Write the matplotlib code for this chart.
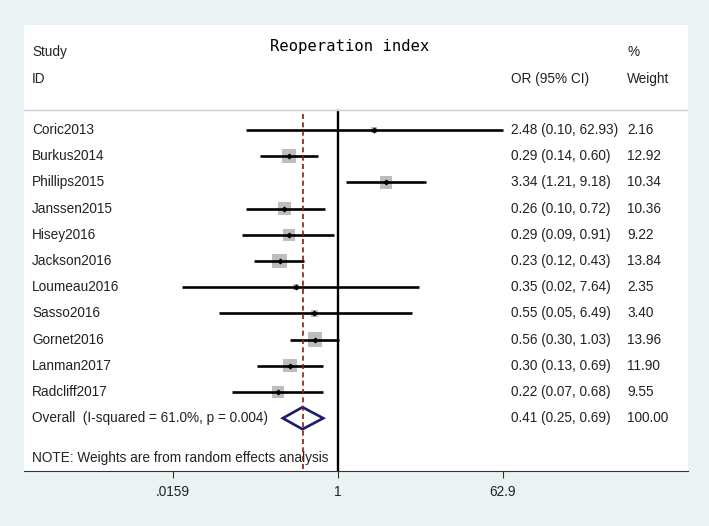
import numpy as np
import matplotlib
matplotlib.use("Agg")
import matplotlib.pyplot as plt

studies = ["Coric2013", "Burkus2014", "Phillips2015", "Janssen2015", "Hisey2016",
           "Jackson2016", "Loumeau2016", "Sasso2016", "Gornet2016", "Lanman2017",
           "Radcliff2017"]
odds = [2.48, 0.29, 3.34, 0.26, 0.29, 0.23, 0.35, 0.55, 0.56, 0.30, 0.22]
ci_low = [0.10, 0.14, 1.21, 0.10, 0.09, 0.12, 0.02, 0.05, 0.30, 0.13, 0.07]
ci_high = [62.93, 0.60, 9.18, 0.72, 0.91, 0.43, 7.64, 6.49, 1.03, 0.69, 0.68]
weights = [2.16, 12.92, 10.34, 10.36, 9.22, 13.84, 2.35, 3.40, 13.96, 11.90, 9.55]
overall = (0.41, 0.25, 0.69)
overall_label = "Overall  (I-squared = 61.0%, p = 0.004)"
xticks = [0.0159, 1, 62.9]
xticklabels = [".0159", "1", "62.9"]

txt_font = "Liberation Sans"
bg = "#eaf2f3"
W, H = 709, 526
fig = plt.figure(figsize=(W / 100, H / 100), dpi=100, facecolor=bg)

# white plot panel (pixel estimates from the reference)
left, right, top, bottom = 24, 688, 25, 471
ax = fig.add_axes([left / W, (H - bottom) / H, (right - left) / W, (bottom - top) / H])
ax.set_facecolor("white")

# x: log scale, 1 at px 338, ~39.8 px per ln unit
x0, k = 338, 39.8
ax.set_xscale("log")
ax.set_xlim(np.exp((left - x0) / k), np.exp((right - x0) / k))
# y: rows, row 0 at px 130, 26.2 px per row
y0, dy = 130, 26.2
ax.set_ylim((bottom - y0) / dy, (top - y0) / dy)

def xd(px):
    return np.exp((px - x0) / k)

def yd(py):
    return (py - y0) / dy

n = len(studies)
rows = np.arange(n)

# reference lines
ax.plot([1, 1], [yd(111), yd(bottom)], color="black", lw=1.7, zorder=2)
ax.plot([overall[0]] * 2, [yd(114), yd(bottom)], color="#8b1a1a", lw=1.2,
        ls=(0, (3, 2)), zorder=7)
ax.axhline(yd(110), color="#cccccc", lw=1)

# studies
for i in rows:
    ax.plot([ci_low[i], ci_high[i]], [i, i], color="black", lw=1.9, zorder=4,
            solid_capstyle="butt")
ax.scatter(odds, rows, marker="s", s=np.array(weights) * 7.8, color="#bdbdbd",
           zorder=3, linewidths=0)
ax.scatter(odds, rows, marker="D", s=5, color="black", zorder=5)

# overall diamond
yo = n
ax.fill([overall[1], overall[0], overall[2], overall[0], overall[1]],
        [yo, yo - 0.42, yo, yo + 0.42, yo], facecolor="none",
        edgecolor="#1a1a6e", lw=1.9, zorder=6)

tkw = dict(fontsize=9.8, family=txt_font, va="center", color="#222222")
cx, ox, wx = 32, 511, 627
for i in rows:
    ax.text(xd(cx), i, studies[i], ha="left", **tkw)
    ax.text(xd(ox), i, f"{odds[i]:.2f} ({ci_low[i]:.2f}, {ci_high[i]:.2f})", ha="left", **tkw)
    ax.text(xd(wx), i, f"{weights[i]:.2f}", ha="left", **tkw)
ax.text(xd(cx), yo, overall_label, ha="left", **tkw)
ax.text(xd(ox), yo, f"{overall[0]:.2f} ({overall[1]:.2f}, {overall[2]:.2f})", ha="left", **tkw)
ax.text(xd(wx), yo, "100.00", ha="left", **tkw)
ax.text(xd(cx), yd(458), "NOTE: Weights are from random effects analysis", ha="left", **tkw)

# header
ax.text(xd(cx), yd(52), "Study", ha="left", **tkw)
ax.text(xd(cx), yd(79), "ID", ha="left", **tkw)
ax.text(xd(ox), yd(79), "OR (95% CI)", ha="left", **tkw)
ax.text(xd(wx), yd(52), "%", ha="left", **tkw)
ax.text(xd(wx), yd(79), "Weight", ha="left", **tkw)
ax.text(xd(350), yd(46), "Reoperation index", ha="center", va="center",
        fontsize=11.2, family="DejaVu Sans Mono", color="black")

for s in ["top", "right", "left"]:
    ax.spines[s].set_visible(False)
ax.spines["bottom"].set_color("#333333")
ax.set_yticks([])
ax.set_xticks(xticks)
ax.set_xticklabels(xticklabels, family=txt_font, fontsize=9.8, color="#222222")
ax.xaxis.set_minor_locator(matplotlib.ticker.NullLocator())
ax.tick_params(axis="x", length=5, color="#333333", pad=5)

fig.savefig("out.png", dpi=100, facecolor=bg)
